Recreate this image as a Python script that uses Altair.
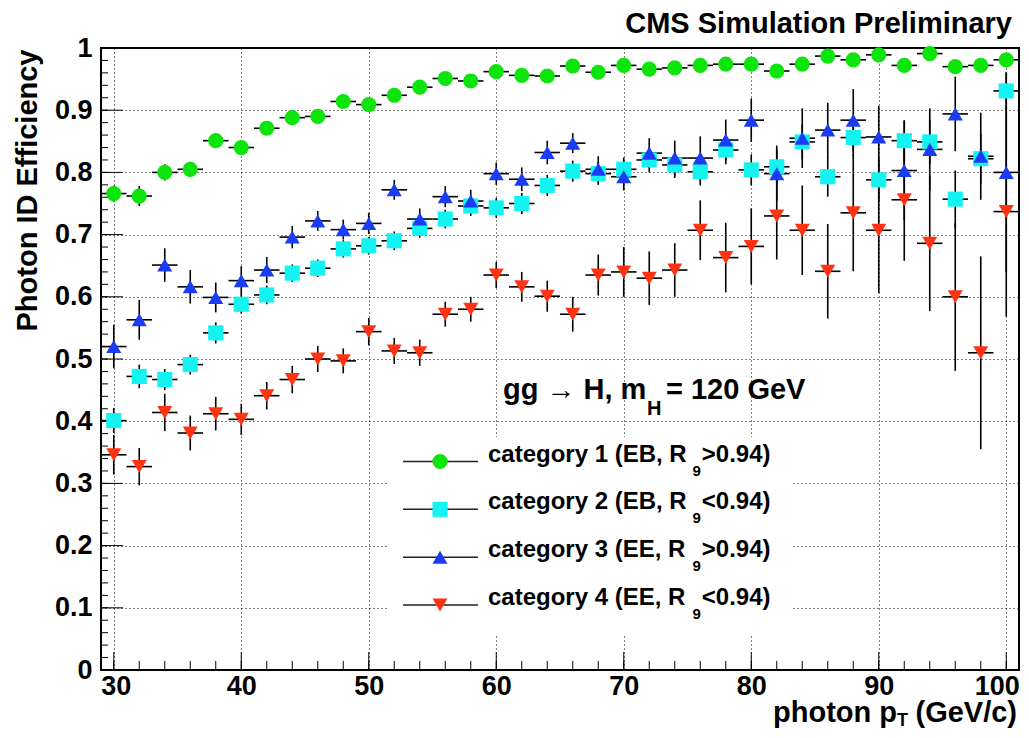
import altair as alt
import pandas as pd

# ---------------- data ----------------
pt = [30, 32, 34, 36, 38, 40, 42, 44, 46, 48, 50, 52, 54, 56, 58, 60, 62, 64,
      66, 68, 70, 72, 74, 76, 78, 80, 82, 84, 86, 88, 90, 92, 94, 96, 98, 100]
pt_halfwidth = 1.0

eff_cat1 = [0.766, 0.762, 0.800, 0.805, 0.851, 0.840, 0.871, 0.888, 0.890, 0.914, 0.909, 0.924,
            0.937, 0.951, 0.947, 0.962, 0.956, 0.955, 0.971, 0.961, 0.972, 0.966, 0.968, 0.972,
            0.974, 0.974, 0.963, 0.974, 0.987, 0.981, 0.989, 0.972, 0.991, 0.970, 0.972, 0.981]
err_cat1 = [0.013, 0.016, 0.013, 0.012, 0.011, 0.011, 0.010, 0.009, 0.009, 0.008, 0.008, 0.008,
            0.007, 0.007, 0.007, 0.006, 0.007, 0.007, 0.006, 0.007, 0.006, 0.007, 0.007, 0.007,
            0.007, 0.007, 0.009, 0.008, 0.006, 0.008, 0.006, 0.009, 0.006, 0.010, 0.010, 0.008]

eff_cat2 = [0.401, 0.472, 0.467, 0.491, 0.542, 0.588, 0.603, 0.638, 0.646, 0.677, 0.682, 0.690,
            0.710, 0.725, 0.746, 0.743, 0.750, 0.779, 0.802, 0.798, 0.805, 0.820, 0.812, 0.801,
            0.836, 0.804, 0.809, 0.849, 0.793, 0.856, 0.788, 0.851, 0.849, 0.757, 0.822, 0.931]
err_cat2 = [0.020, 0.019, 0.017, 0.016, 0.017, 0.015, 0.015, 0.014, 0.014, 0.014, 0.014, 0.015,
            0.015, 0.015, 0.016, 0.016, 0.017, 0.017, 0.017, 0.018, 0.019, 0.020, 0.021, 0.022,
            0.023, 0.025, 0.027, 0.028, 0.032, 0.030, 0.035, 0.033, 0.036, 0.046, 0.040, 0.030]

eff_cat3 = [0.520, 0.563, 0.651, 0.616, 0.599, 0.626, 0.643, 0.696, 0.722, 0.708, 0.718, 0.772,
            0.725, 0.761, 0.754, 0.798, 0.789, 0.832, 0.847, 0.805, 0.793, 0.831, 0.823, 0.823,
            0.852, 0.884, 0.798, 0.855, 0.868, 0.884, 0.857, 0.803, 0.837, 0.894, 0.826, 0.800]
err_cat3 = [0.035, 0.032, 0.027, 0.027, 0.024, 0.023, 0.021, 0.018, 0.016, 0.016, 0.017, 0.016,
            0.017, 0.017, 0.018, 0.018, 0.019, 0.019, 0.016, 0.021, 0.022, 0.024, 0.028, 0.035,
            0.033, 0.035, 0.045, 0.048, 0.044, 0.050, 0.050, 0.080, 0.066, 0.060, 0.070, 0.160]

eff_cat4 = [0.346, 0.327, 0.414, 0.381, 0.412, 0.403, 0.441, 0.467, 0.500, 0.497, 0.544, 0.513,
            0.510, 0.572, 0.580, 0.635, 0.616, 0.601, 0.572, 0.635, 0.640, 0.630, 0.643, 0.707,
            0.663, 0.681, 0.730, 0.707, 0.641, 0.735, 0.707, 0.756, 0.686, 0.600, 0.510, 0.737]
err_cat4 = [0.032, 0.030, 0.030, 0.028, 0.027, 0.025, 0.022, 0.022, 0.021, 0.020, 0.022, 0.021,
            0.021, 0.020, 0.020, 0.021, 0.024, 0.025, 0.028, 0.033, 0.040, 0.043, 0.043, 0.048,
            0.056, 0.061, 0.070, 0.072, 0.076, 0.094, 0.101, 0.098, 0.109, 0.119, 0.155, 0.169]

categories = ["cat1", "cat2", "cat3", "cat4"]
legend_main = ["category 1 (EB, R", "category 2 (EB, R", "category 3 (EE, R", "category 4 (EE, R"]
legend_tail = [">0.94)", "<0.94)", ">0.94)", "<0.94)"]
colors = ["#0ce40c", "#14f2f2", "#1a3cf5", "#ff3312"]
shapes = ["circle", "square", "triangle-up", "triangle-down"]
marker_sizes = [230, 225, 330, 330]

x_major = [30, 40, 50, 60, 70, 80, 90, 100]
x_minor = [30, 32, 34, 36, 38, 40, 42, 44, 46, 48, 50, 52, 54, 56, 58, 60, 62, 64,
           66, 68, 70, 72, 74, 76, 78, 80, 82, 84, 86, 88, 90, 92, 94, 96, 98, 100]
y_major = [0, 0.1, 0.2, 0.3, 0.4, 0.5, 0.6, 0.7, 0.8, 0.9, 1]
y_minor = [round(0.02 * i, 2) for i in range(51)]

# ---------------- build tables ----------------
rows = []
for c, effs, errs in zip(categories, [eff_cat1, eff_cat2, eff_cat3, eff_cat4],
                         [err_cat1, err_cat2, err_cat3, err_cat4]):
    for x, y, e in zip(pt, effs, errs):
        rows.append(dict(cat=c, pt=x, eff=y, lo=y - e, hi=y + e,
                         xlo=x - pt_halfwidth, xhi=x + pt_halfwidth))
df = pd.DataFrame(rows)

leg = pd.DataFrame({
    "cat": categories,
    "main": legend_main,
    "tail": legend_tail,
    "sub": ["9"] * 4,
})
leg["ly"] = [0.3352 - 0.0769 * i for i in range(4)]
leg["lx1"] = 52.69
leg["lx2"] = 58.57
leg["lm"] = 55.59
leg["ta"] = 59.35
leg["ts"] = 75.40
leg["tb"] = 76.12

# ---------------- styling ----------------
FONT = "Liberation Sans"
W, H = 918, 622
xs = alt.Scale(domain=[29, 101], nice=False, zero=False)
ys = alt.Scale(domain=[0, 1], nice=False, zero=False)
cscale = alt.Scale(domain=categories, range=colors)
sscale = alt.Scale(domain=categories, range=shapes)
zscale = alt.Scale(domain=categories, range=marker_sizes)

grid_kw = dict(grid=True, gridColor="black", gridDash=[1, 3], gridWidth=1, gridOpacity=1,
               ticks=False, tickSize=0, domain=False, labelFont=FONT, labelFontSize=27,
               labelFontWeight="bold", labelColor="black")
xaxis = alt.Axis(values=x_major, format="d", title=None, labelPadding=3,
                 labelFlush=15, labelFlushOffset=13, **grid_kw)
yaxis = alt.Axis(values=y_major, format="~g", title="Photon ID Efficiency",
                 titleFont=FONT, titleFontSize=29, titleFontWeight="bold", titleColor="black",
                 titleAngle=270, titleAlign="right", titleBaseline="alphabetic",
                 titleX=-65, titleY=1, labelPadding=9, **grid_kw)


def X(f):
    return alt.X(f, scale=xs, axis=xaxis)


def Y(f):
    return alt.Y(f, scale=ys, axis=yaxis)


one = pd.DataFrame({"d": [0]})

# legend background box (covers grid)
legbox = alt.Chart(one).mark_rect(color="white").encode(
    x=alt.value(287), x2=alt.value(691), y=alt.value(389), y2=alt.value(587))

# inner ticks
xmin_t = alt.Chart(pd.DataFrame({"t": x_minor})).mark_rule(color="black", strokeWidth=1).encode(
    x=X("t:Q"), y=alt.value(H), y2=alt.value(H - 9))
xmaj_t = alt.Chart(pd.DataFrame({"t": x_major})).mark_rule(color="black", strokeWidth=1).encode(
    x=X("t:Q"), y=alt.value(H), y2=alt.value(H - 18))
ymin_t = alt.Chart(pd.DataFrame({"t": y_minor})).mark_rule(color="black", strokeWidth=1).encode(
    y=Y("t:Q"), x=alt.value(0), x2=alt.value(7))
ymaj_t = alt.Chart(pd.DataFrame({"t": y_major})).mark_rule(color="black", strokeWidth=1).encode(
    y=Y("t:Q"), x=alt.value(0), x2=alt.value(22))

base = alt.Chart(df)
hbar = base.mark_rule(color="black", strokeWidth=1.6).encode(
    x=X("xlo:Q"), x2="xhi:Q", y=Y("eff:Q"))
vbar = base.mark_rule(color="black", strokeWidth=1.6).encode(
    x=X("pt:Q"), y=Y("lo:Q"), y2="hi:Q")
pts = base.mark_point(filled=True, opacity=1, strokeWidth=0).encode(
    x=X("pt:Q"), y=Y("eff:Q"),
    color=alt.Color("cat:N", scale=cscale, legend=None),
    shape=alt.Shape("cat:N", scale=sscale, legend=None),
    size=alt.Size("cat:N", scale=zscale, legend=None))

lbase = alt.Chart(leg)
leg_line = lbase.mark_rule(color="#222222", strokeWidth=1.5).encode(
    x=X("lx1:Q"), x2="lx2:Q", y=Y("ly:Q"))
leg_pt = lbase.mark_point(filled=True, opacity=1, strokeWidth=0).encode(
    x=X("lm:Q"), y=Y("ly:Q"),
    color=alt.Color("cat:N", scale=cscale, legend=None),
    shape=alt.Shape("cat:N", scale=sscale, legend=None),
    size=alt.Size("cat:N", scale=zscale, legend=None))
tkw = dict(font=FONT, fontWeight="bold", color="black", align="left", baseline="alphabetic")
leg_ta = lbase.mark_text(fontSize=24, **tkw).encode(x=X("ta:Q"), y=Y("ly:Q"), text="main:N")
leg_ts = lbase.mark_text(fontSize=15, dy=14, **tkw).encode(x=X("ts:Q"), y=Y("ly:Q"), text="sub:N")
leg_tb = lbase.mark_text(fontSize=24, **tkw).encode(x=X("tb:Q"), y=Y("ly:Q"), text="tail:N")


def label(s, x, y, size, align="left"):
    return alt.Chart(one).mark_text(text=s, font=FONT, fontWeight="bold", fontSize=size,
                                    color="black", align=align, baseline="alphabetic").encode(
        x=alt.value(x), y=alt.value(y))


texts = [
    label("CMS Simulation Preliminary", 911, -15, 29, "right"),
    label("gg \u2192 H, m", 402, 351, 29),
    label("H", 546, 367, 20),
    label("= 120 GeV", 565, 351, 29),
    label("photon p", 796, 674, 29, "right"),
    label("T", 807, 678, 18, "right"),
    label("(GeV/c)", 916, 674, 29, "right"),
]

chart = alt.layer(
    legbox, xmin_t, xmaj_t, ymin_t, ymaj_t, hbar, vbar, pts,
    leg_line, leg_pt, leg_ta, leg_ts, leg_tb, *texts
).properties(
    width=W, height=H,
    padding={"left": 93, "top": 40, "right": 2, "bottom": 60},
    autosize=alt.AutoSizeParams(type="none"),
    background="white",
).configure_view(stroke="black", strokeWidth=2)

chart.save("out.html", embed_options={"renderer": "svg", "actions": False})
